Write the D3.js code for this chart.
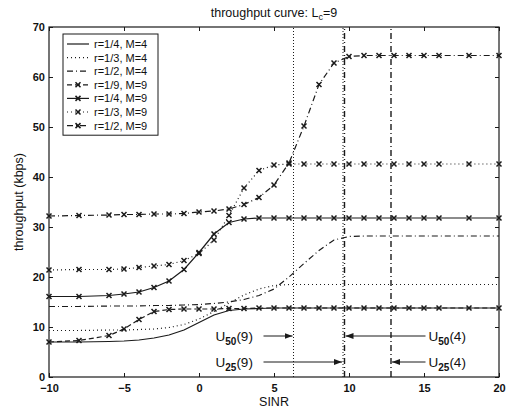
<!DOCTYPE html>
<html>
<head>
<meta charset="utf-8">
<script src="https://cdn.jsdelivr.net/npm/d3@7"></script>
<style>
  body { margin: 0; background: #fff; }
  text { font-family: "Liberation Sans", Arial, sans-serif; fill: #111; }
</style>
</head>
<body>
<div id="chart"></div>
<script>
const sinr = [-10, -8, -6, -5, -4, -3, -2, -1, 0, 1, 2, 3, 4, 5, 6, 7, 8, 9, 10, 11, 12, 13, 14, 15, 16, 18, 20];

const r4m4 = [7.0, 7.0, 7.1, 7.2, 7.4, 7.8, 8.4, 9.4, 10.9, 12.4, 13.3, 13.6, 13.7, 13.8, 13.8, 13.8, 13.8, 13.8, 13.8, 13.8, 13.8, 13.8, 13.8, 13.8, 13.8, 13.8, 13.8];
const r3m4 = [9.3, 9.3, 9.4, 9.4, 9.5, 9.6, 9.9, 10.5, 11.6, 13.1, 14.8, 16.4, 17.6, 18.3, 18.5, 18.5, 18.5, 18.5, 18.5, 18.5, 18.5, 18.5, 18.5, 18.5, 18.5, 18.5, 18.5];
const r2m4 = [14.1, 14.1, 14.2, 14.2, 14.2, 14.3, 14.3, 14.4, 14.5, 14.7, 15.0, 15.5, 16.3, 17.6, 20.0, 22.7, 25.3, 27.4, 28.1, 28.2, 28.2, 28.2, 28.2, 28.2, 28.2, 28.2, 28.2];
const r9m9 = [7.0, 7.3, 8.3, 9.6, 11.5, 13.1, 13.5, 13.6, 13.6, 13.6, 13.7, 13.7, 13.8, 13.8, 13.8, 13.8, 13.8, 13.8, 13.8, 13.8, 13.8, 13.8, 13.8, 13.8, 13.8, 13.8, 13.8];
const r4m9 = [16.1, 16.1, 16.3, 16.6, 17.0, 17.9, 19.2, 21.5, 24.9, 28.6, 30.9, 31.6, 31.8, 31.8, 31.8, 31.8, 31.8, 31.8, 31.8, 31.8, 31.8, 31.8, 31.8, 31.8, 31.8, 31.8, 31.8];
const r3m9 = [21.4, 21.5, 21.5, 21.6, 21.9, 22.2, 22.5, 23.3, 24.7, 27.4, 32.3, 37.8, 41.3, 42.4, 42.6, 42.6, 42.6, 42.6, 42.6, 42.6, 42.6, 42.6, 42.6, 42.6, 42.6, 42.6, 42.6];
const r2m9 = [32.2, 32.3, 32.4, 32.5, 32.5, 32.6, 32.6, 32.7, 33.0, 33.2, 33.6, 34.5, 35.9, 38.4, 42.8, 50.2, 58.5, 62.8, 64.1, 64.3, 64.3, 64.3, 64.3, 64.3, 64.3, 64.3, 64.3];

const seriesNames = ["r=1/4, M=4", "r=1/3, M=4", "r=1/2, M=4", "r=1/9, M=9", "r=1/4, M=9", "r=1/3, M=9", "r=1/2, M=9"];
const seriesValues = [r4m4, r3m4, r2m4, r9m9, r4m9, r3m9, r2m9];
const seriesDash = [null, "1,3", "6,3,1,3", "5,3", null, "1,3", "6,3,1,3"];
const seriesMarker = [false, false, false, true, true, true, true];

// thresholds U50(9), U25(9), U50(4), U25(4)
const thrX = [6.3, 9.6, 9.7, 12.8];
const thrDash = ["1,2", "1,2", "6,3,1,3", "6,3,1,3"];
const thrLabels = [["50", "9"], ["25", "9"], ["50", "4"], ["25", "4"]];
const thrLabelY = [7.2, 2.0, 7.2, 2.0];

const xTicks = [-10, -5, 0, 5, 10, 15, 20];
const yTicks = [0, 10, 20, 30, 40, 50, 60, 70];

const margin = { top: 27, right: 13, bottom: 32, left: 49 };
const W = 512, H = 409;
const width = W - margin.left - margin.right;
const height = H - margin.top - margin.bottom;

const root = d3.select("#chart").append("svg")
    .attr("width", W).attr("height", H);

const svg = root.append("g")
    .attr("transform", `translate(${margin.left},${margin.top})`);

const x = d3.scaleLinear().domain([-10, 20]).range([0, width]);
const y = d3.scaleLinear().domain([0, 70]).range([height, 0]);

const ink = "#1a1a1a";

// axes with inward ticks (matlab style)
svg.append("g").attr("transform", `translate(0,${height})`)
    .call(d3.axisBottom(x).tickValues(xTicks).tickSize(-4).tickPadding(7).tickFormat(d => d < 0 ? "\u2212" + Math.abs(d) : d));
svg.append("g")
    .call(d3.axisLeft(y).tickValues(yTicks).tickSize(-4).tickPadding(4));
svg.append("g").call(d3.axisTop(x).tickValues(xTicks).tickSize(-4).tickFormat(""));
svg.append("g").attr("transform", `translate(${width},0)`)
    .call(d3.axisRight(y).tickValues(yTicks).tickSize(-4).tickFormat(""));

svg.selectAll(".domain").remove();
svg.selectAll(".tick line").attr("stroke", ink);
svg.selectAll(".tick text").style("font-size", "11px").style("font-weight", "bold").attr("fill", ink);

svg.append("rect")
    .attr("width", width).attr("height", height)
    .attr("fill", "none").attr("stroke", ink).attr("stroke-width", 1.2);

// threshold lines
thrX.forEach((t, i) => {
    svg.append("line")
        .attr("x1", x(t)).attr("x2", x(t))
        .attr("y1", y(0)).attr("y2", y(70))
        .attr("stroke", ink).attr("stroke-width", i < 2 ? 1 : 1.4)
        .attr("stroke-dasharray", thrDash[i]);
});

// curves
const line = d3.line().x((d, i) => x(sinr[i])).y(d => y(d));

seriesValues.forEach((vals, k) => {
    svg.append("path")
        .datum(vals)
        .attr("d", line)
        .attr("fill", "none")
        .attr("stroke", ink)
        .attr("stroke-width", 1.2)
        .attr("stroke-dasharray", seriesDash[k]);
    if (seriesMarker[k]) {
        svg.selectAll(null)
            .data(vals)
            .enter().append("path")
            .attr("transform", (d, i) => `translate(${x(sinr[i])},${y(d)})`)
            .attr("d", "M-2.5,-2.5L2.5,2.5M-2.5,2.5L2.5,-2.5")
            .attr("stroke", ink).attr("stroke-width", 1.5);
    }
});

// threshold labels with arrows
root.append("defs").append("marker")
    .attr("id", "ah").attr("viewBox", "0 0 8 6")
    .attr("refX", 8).attr("refY", 3)
    .attr("markerWidth", 8).attr("markerHeight", 6)
    .attr("markerUnits", "userSpaceOnUse")
    .attr("orient", "auto")
    .append("path").attr("d", "M0,0L8,3L0,6Z").attr("fill", ink);

function uLabel(px, py, sub, arg) {
    const t = svg.append("text").attr("x", px).attr("y", py)
        .style("font-size", "13.5px");
    t.append("tspan").text("U");
    t.append("tspan").attr("dy", 4).style("font-size", "10px").style("font-weight", "bold").text(sub);
    t.append("tspan").attr("dy", -4).text("(" + arg + ")");
}

// U(9) labels on the left, arrows pointing right
[0, 1].forEach(i => {
    const yy = y(thrLabelY[i]) - 5;
    uLabel(x(1.1), y(thrLabelY[i]), thrLabels[i][0], thrLabels[i][1]);
    svg.append("line")
        .attr("x1", x(4.3)).attr("x2", x(thrX[i]) - 1)
        .attr("y1", yy).attr("y2", yy)
        .attr("stroke", ink).attr("stroke-width", 1)
        .attr("marker-end", "url(#ah)");
});
// U(4) labels on the right, arrows pointing left
[2, 3].forEach(i => {
    const yy = y(thrLabelY[i]) - 5;
    uLabel(x(15.3), y(thrLabelY[i]), thrLabels[i][0], thrLabels[i][1]);
    svg.append("line")
        .attr("x1", x(15.1)).attr("x2", x(thrX[i]) + 1)
        .attr("y1", yy).attr("y2", yy)
        .attr("stroke", ink).attr("stroke-width", 1)
        .attr("marker-end", "url(#ah)");
});

// legend
const lg = svg.append("g").attr("transform", "translate(14,7)");
const rowH = 13.6;
lg.append("rect")
    .attr("width", 95).attr("height", seriesNames.length * rowH + 6)
    .attr("fill", "#fff").attr("stroke", ink).attr("stroke-width", 1);
seriesNames.forEach((name, k) => {
    const ry = 10 + k * rowH;
    lg.append("line")
        .attr("x1", 4).attr("x2", 26).attr("y1", ry).attr("y2", ry)
        .attr("stroke", ink).attr("stroke-width", 1.2)
        .attr("stroke-dasharray", seriesDash[k]);
    if (seriesMarker[k]) {
        lg.append("path")
            .attr("transform", `translate(15,${ry})`)
            .attr("d", "M-2.5,-2.5L2.5,2.5M-2.5,2.5L2.5,-2.5")
            .attr("stroke", ink).attr("stroke-width", 1.5);
    }
    lg.append("text").attr("x", 31).attr("y", ry + 4)
        .style("font-size", "11px").text(name);
});

// title and axis labels
const title = root.append("text")
    .attr("x", margin.left + width / 2).attr("y", 17)
    .attr("text-anchor", "middle").style("font-size", "12.5px");
title.append("tspan").text("throughput curve: L");
title.append("tspan").attr("dy", 3).style("font-size", "9px").text("c");
title.append("tspan").attr("dy", -3).text("=9");

root.append("text")
    .attr("x", margin.left + width / 2).attr("y", H - 3)
    .attr("text-anchor", "middle").style("font-size", "12.5px")
    .text("SINR");

root.append("text")
    .attr("transform", `translate(23,${margin.top + height / 2}) rotate(-90)`)
    .attr("text-anchor", "middle").style("font-size", "12.5px")
    .text("throughput (kbps)");
</script>
</body>
</html>
